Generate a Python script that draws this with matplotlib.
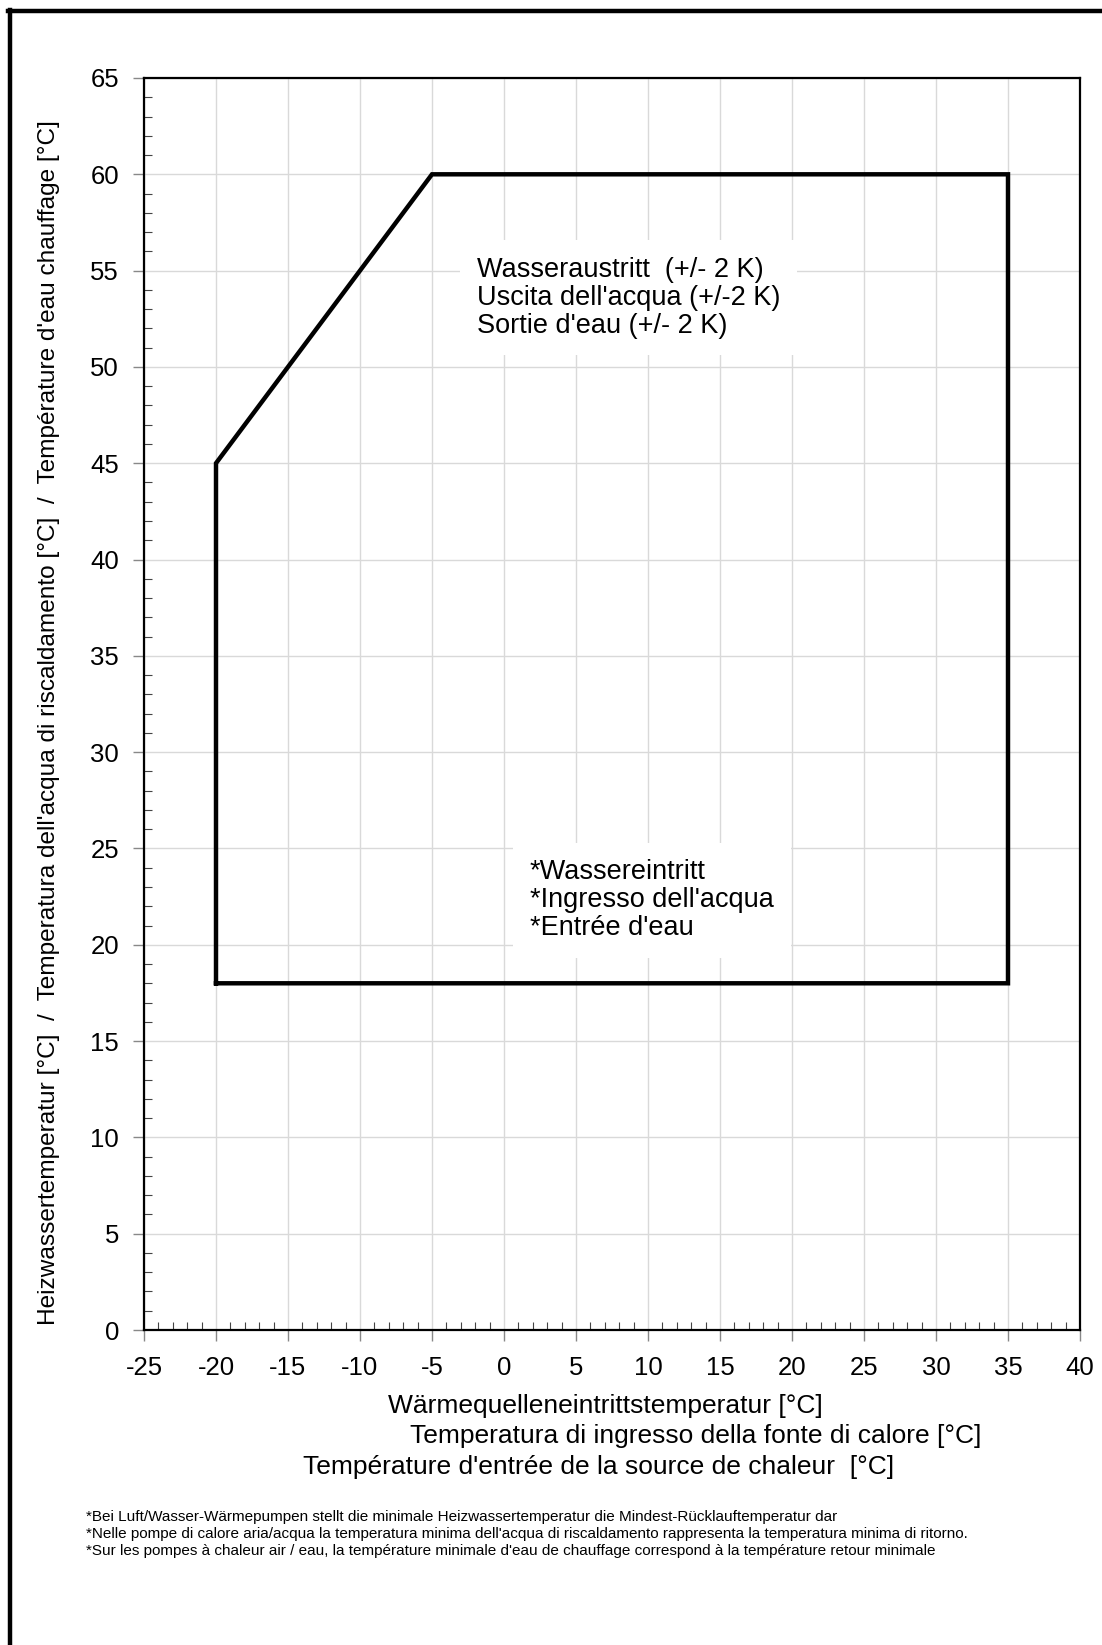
import matplotlib
matplotlib.use("Agg")
import matplotlib.pyplot as plt
from matplotlib.ticker import MultipleLocator
from matplotlib.lines import Line2D

plt.rcParams['font.family'] = ['Liberation Sans', 'DejaVu Sans']
plt.rcParams['axes.unicode_minus'] = False

# Einsatzgrenze (Polygon)
src_temp = [-20, -20, -5, 35, 35, -20]
water_temp = [18, 45, 60, 60, 18, 18]

x_ticks = list(range(-25, 41, 5))
y_ticks = list(range(0, 66, 5))

outlet_lines = ["Wasseraustritt  (+/- 2 K)",
                "Uscita dell'acqua (+/-2 K)",
                "Sortie d'eau (+/- 2 K)"]
inlet_lines = ["*Wassereintritt",
               "*Ingresso dell'acqua",
               "*Entrée d'eau"]
xlabel_lines = ["Wärmequelleneintrittstemperatur [°C]",
                "Temperatura di ingresso della fonte di calore [°C]",
                "Température d'entrée de la source de chaleur  [°C]"]
ylabel = ("Heizwassertemperatur [°C]  /  Temperatura dell'acqua di riscaldamento [°C]"
          "  /  Température d'eau chauffage [°C]")
footnotes = ["*Bei Luft/Wasser-Wärmepumpen stellt die minimale Heizwassertemperatur die Mindest-Rücklauftemperatur dar",
             "*Nelle pompe di calore aria/acqua la temperatura minima dell'acqua di riscaldamento rappresenta la temperatura minima di ritorno.",
             "*Sur les pompes à chaleur air / eau, la température minimale d'eau de chauffage correspond à la température retour minimale"]

W, H = 1102, 1645
fig = plt.figure(figsize=(W / 100, H / 100), dpi=100)
ax = fig.add_axes([144 / W, 1 - 1330 / H, (1080 - 144) / W, (1330 - 78) / H])

ax.plot(src_temp, water_temp, color='black', lw=3.2, solid_joinstyle='miter', zorder=3)

ax.set_xlim(x_ticks[0], x_ticks[-1])
ax.set_ylim(y_ticks[0], y_ticks[-1])
ax.set_xticks(x_ticks)
ax.set_yticks(y_ticks)
ax.xaxis.set_minor_locator(MultipleLocator(1))
ax.yaxis.set_minor_locator(MultipleLocator(1))
ax.grid(True, which='major', color='#d9d9d9', lw=1.0, zorder=0)
ax.tick_params(which='major', direction='out', length=8, width=1, color='#888888',
               labelsize=18.5, pad=11)
ax.tick_params(axis='y', which='major', pad=10)
ax.tick_params(which='minor', direction='in', length=6, width=0.8, color='#444444')
for s in ax.spines.values():
    s.set_linewidth(1.6)

# Textfelder mit weissem Hintergrund
ax.text(-1.9, 53.6, "\n".join(outlet_lines), fontsize=19.5, linespacing=1.1,
        va='center', ha='left', zorder=4,
        bbox=dict(facecolor='white', edgecolor='none', pad=12))
ax.text(1.8, 22.3, "\n".join(inlet_lines), fontsize=19.5, linespacing=1.1,
        va='center', ha='left', zorder=4,
        bbox=dict(facecolor='white', edgecolor='none', pad=12))

# Achsenbeschriftungen
for cx, cy, txt in zip([605, 696, 599], [1406, 1436, 1467], xlabel_lines):
    fig.text(cx / W, 1 - cy / H, txt, fontsize=19, ha='center', va='center')
fig.text(49 / W, 1 - 723 / H, ylabel, fontsize=17.6, rotation=90, ha='center', va='center')

for i, line in enumerate(footnotes):
    fig.text(86 / W, 1 - (1517 + 17 * i) / H, line, fontsize=11, ha='left', va='center')

# Rahmen (oben und links)
fig.add_artist(Line2D([8 / W, 1], [1 - 11 / H, 1 - 11 / H], color='black', lw=3.2,
                      transform=fig.transFigure))
fig.add_artist(Line2D([10 / W, 10 / W], [1 - 10 / H, 0], color='black', lw=3.2,
                      transform=fig.transFigure))

fig.savefig("out.png", dpi=100, facecolor='white')
